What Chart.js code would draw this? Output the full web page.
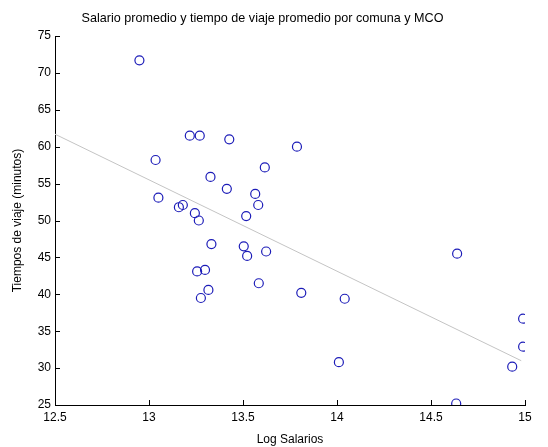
<!DOCTYPE html>
<html>
<head>
<meta charset="utf-8">
<script src="https://cdn.jsdelivr.net/npm/chart.js@4/dist/chart.umd.min.js"></script>
<style>
html,body{margin:0;padding:0;background:#fff;}
#wrap{width:548px;height:447px;position:relative;}
</style>
</head>
<body>
<div id="wrap"><canvas id="c" width="548" height="447"></canvas></div>
<script>
const logSalarios = [12.949,13.217,13.270,13.427,13.787,13.035,13.616,13.327,13.414,13.565,13.050,13.581,13.180,13.159,13.517,13.244,13.265,13.332,13.504,13.623,13.522,13.256,13.298,13.584,13.316,13.276,13.810,14.639,14.041,14.010,14.990,14.990,14.932,14.634];
const tiempos = [71.7,61.5,61.5,61.0,60.0,58.2,57.2,55.9,54.3,53.6,53.1,52.1,52.1,51.8,50.6,51.0,50.0,46.8,46.5,45.8,45.2,43.1,43.3,41.5,40.6,39.5,40.2,45.5,39.4,30.8,36.7,32.9,30.2,25.2];
const mcoX = [12.5, 14.98];
const mcoY = [61.7, 31.0];
const xTicks = [12.5,13,13.5,14,14.5,15];
const yTicks = [25,30,35,40,45,50,55,60,65,70,75];

const FONT = "'Liberation Sans', Arial, sans-serif";

const inwardTicks = {
  id:'inwardTicks',
  afterDraw(chart){
    const ctx = chart.ctx, a = chart.chartArea;
    const xs = chart.scales.x, ys = chart.scales.y;
    ctx.save();
    ctx.strokeStyle = '#000';
    ctx.lineWidth = 1;
    ctx.beginPath();
    xTicks.forEach(v=>{
      const p = Math.round(xs.getPixelForValue(v))+0.5;
      ctx.moveTo(p, a.bottom); ctx.lineTo(p, a.bottom-5);
    });
    yTicks.forEach(v=>{
      const p = Math.round(ys.getPixelForValue(v))+0.5;
      ctx.moveTo(a.left, p); ctx.lineTo(a.left+5, p);
    });
    ctx.stroke();
    ctx.restore();
  }
};

new Chart(document.getElementById('c'), {
  type:'scatter',
  data:{
    datasets:[
      {
        label:'MCO',
        type:'line',
        data: mcoX.map((x,i)=>({x:x,y:mcoY[i]})),
        borderColor:'#c4c4c4',
        borderWidth:1,
        pointRadius:0,
        fill:false,
        order:2
      },
      {
        label:'Comunas',
        data: logSalarios.map((x,i)=>({x:x,y:tiempos[i]})),
        pointStyle:'circle',
        pointRadius:4.5,
        pointBorderWidth:1.2,
        pointBorderColor:'#1c1cb8',
        pointBackgroundColor:'rgba(0,0,0,0)',
        order:1
      }
    ]
  },
  options:{
    responsive:false,
    animation:false,
    layout:{padding:{left:0,right:23,top:0,bottom:0}},
    plugins:{
      legend:{display:false},
      tooltip:{enabled:false},
      title:{
        display:true,
        text:'Salario promedio y tiempo de viaje promedio por comuna y MCO',
        color:'#000',
        font:{family:FONT,size:12.6,weight:'normal'},
        padding:{top:10.5,bottom:10.4}
      }
    },
    scales:{
      x:{
        type:'linear',
        min:12.5,max:15,
        afterBuildTicks(s){ s.ticks = xTicks.map(v=>({value:v})); },
        afterFit(s){ s.height = 42; },
        border:{display:true,color:'#000',width:1},
        grid:{display:true,drawOnChartArea:false,drawTicks:false},
        ticks:{color:'#000',font:{family:FONT,size:12},padding:5,maxRotation:0,
          callback:(v)=>String(v)},
        title:{display:true,text:'Log Salarios',color:'#000',font:{family:FONT,size:12},padding:{top:1,bottom:0}}
      },
      y:{
        type:'linear',
        min:25,max:75,
        afterBuildTicks(s){ s.ticks = yTicks.map(v=>({value:v})); },
        afterFit(s){ s.width = 55; },
        border:{display:true,color:'#000',width:1},
        grid:{display:true,drawOnChartArea:false,drawTicks:false},
        ticks:{color:'#000',font:{family:FONT,size:12},padding:4,
          callback:(v)=>String(v)},
        title:{display:true,text:'Tiempos de viaje (minutos)',color:'#000',font:{family:FONT,size:12},padding:{top:10,bottom:0}}
      }
    }
  },
  plugins:[inwardTicks]
});
</script>
</body>
</html>
